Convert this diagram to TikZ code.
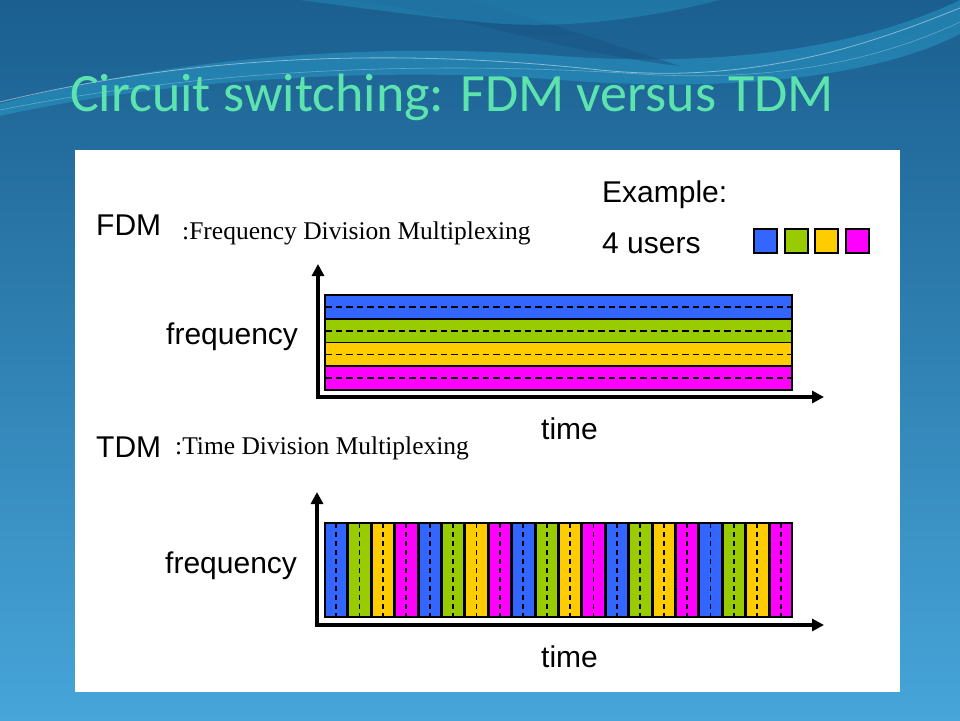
\documentclass[tikz,border=0pt]{standalone}
\usepackage{fontspec}
\setmainfont{Liberation Serif}
\setsansfont{Liberation Sans}
\newfontfamily\titlefont{Carlito}
\usetikzlibrary{arrows.meta}

\definecolor{userblue}{HTML}{3366FF}
\definecolor{usergreen}{HTML}{99CC00}
\definecolor{useryellow}{HTML}{FFCC00}
\definecolor{usermagenta}{HTML}{FF00FF}
\definecolor{titlegreen}{HTML}{5CE3AE}
\definecolor{bgtop}{HTML}{1A5F8F}
\definecolor{bgbottom}{HTML}{47A5D9}
\definecolor{swooshlight}{HTML}{2BA3CF}
\definecolor{swooshdark}{HTML}{1A5585}

\begin{document}
\begin{tikzpicture}[
    x=1pt,
    y=-1pt,
    sans_text/.style={
      font=\sffamily\fontsize{30}{36}\selectfont,
      inner sep=0pt,
      anchor=base west
    },
    serif_desc/.style={
      font=\rmfamily\fontsize{25.5}{30}\selectfont,
      inner sep=0pt,
      anchor=base west
    },
    title_text/.style={
      font=\titlefont\fontsize{54}{60}\selectfont,
      inner sep=0pt,
      anchor=base west
    },
    axis_arrow/.style={
      line width=3.5pt,
      {Triangle[length=12pt,width=12pt]}-{Triangle[length=12pt,width=12pt]}
    },
    band_box/.style={draw=black, line width=1.8pt},
    mid_dash/.style={draw=black, line width=1.8pt, dash pattern=on 6.5pt off 4pt},
    user_square/.style={
      draw=black,
      line width=1.8pt,
      rectangle,
      inner sep=0pt,
      minimum width=23pt,
      minimum height=24pt,
      anchor=north west
    }
  ]
    % background
    \useasboundingbox (0, 0) rectangle (960, 720);
    \shade[top color=bgtop, bottom color=bgbottom] (0, 0) rectangle (960, 720);
    \fill[swooshlight, opacity=0.45] (0, 104) .. controls (150, 62) and (360, 40) .. (560, 56)
      .. controls (720, 68) and (860, 48) .. (960, 0) -- (960, 34)
      .. controls (870, 80) and (720, 92) .. (560, 80)
      .. controls (380, 66) and (160, 80) .. (0, 116) -- cycle;
    \fill[swooshdark, opacity=0.55] (360, 0) .. controls (470, 18) and (560, 52) .. (680, 66)
      .. controls (600, 40) and (520, 14) .. (470, 0) -- cycle;
    \fill[swooshlight, opacity=0.35] (300, 0) -- (720, 0) .. controls (640, 20) and (560, 30) .. (480, 22)
      .. controls (420, 16) and (360, 8) .. (300, 0) -- cycle;
    \draw[white, opacity=0.45, line width=0.8pt] (0, 102) .. controls (180, 58) and (380, 46) .. (600, 70)
      .. controls (760, 86) and (880, 40) .. (960, 8);
    \draw[white, opacity=0.3, line width=0.6pt] (0, 110) .. controls (200, 70) and (420, 60) .. (640, 74)
      .. controls (800, 84) and (900, 50) .. (960, 22);

    % title
    \node[title_text, text=titlegreen] (title) at (70, 111) {Circuit switching: FDM versus TDM};

    % white panel
    \fill[white] (75, 150) rectangle (900, 692);

    % labels
    \node[sans_text] (fdm_label) at (96, 235) {FDM};
    \node[serif_desc] (fdm_desc) at (182, 239) {:Frequency Division Multiplexing};
    \node[sans_text] (example) at (602, 202) {Example:};
    \node[sans_text] (users) at (602, 253) {4 users};
    \node[sans_text] (fdm_freq) at (166, 344) {frequency};
    \node[sans_text] (fdm_time) at (541, 439) {time};
    \node[sans_text] (tdm_label) at (96, 457) {TDM};
    \node[serif_desc] (tdm_desc) at (175, 454) {:Time Division Multiplexing};
    \node[sans_text] (tdm_freq) at (165, 573) {frequency};
    \node[sans_text] (tdm_time) at (541, 667) {time};

    % legend squares
    \foreach \col [count=\i from 0] in {userblue, usergreen, useryellow, usermagenta}
      \node[user_square, fill=\col] (user_\i) at ({753 + \i*30.7}, 228) {};

    % FDM bands
    \foreach \col [count=\i from 0] in {userblue, usergreen, useryellow, usermagenta} {
      \path[fill=\col, band_box] (325, {295 + \i*23.75}) rectangle (792, {318.75 + \i*23.75});
      \draw[mid_dash] (325, {306.9 + \i*23.75}) -- (792, {306.9 + \i*23.75});
    }

    % TDM slots
    \foreach \r in {0, ..., 4}
      \foreach \col [count=\c from 0] in {userblue, usergreen, useryellow, usermagenta} {
        \pgfmathsetmacro\xs{325 + (\r*4 + \c)*23.4}
        \path[fill=\col, band_box] (\xs, 523) rectangle ({\xs + 22.2}, 617);
        \draw[mid_dash, dash pattern=on 5pt off 4pt] ({\xs + 11.1}, 523) -- ({\xs + 11.1}, 617);
      }

    % axes
    \coordinate (fdm_origin) at (318, 397);
    \coordinate (fdm_ytip) at (318, 264);
    \coordinate (fdm_xtip) at (824, 397);
    \coordinate (tdm_origin) at (317, 625);
    \coordinate (tdm_ytip) at (317, 492);
    \coordinate (tdm_xtip) at (824, 625);

    \draw[axis_arrow] (fdm_ytip) -- (fdm_origin) -- (fdm_xtip);
    \draw[axis_arrow] (tdm_ytip) -- (tdm_origin) -- (tdm_xtip);

  \end{tikzpicture}
\end{document}
